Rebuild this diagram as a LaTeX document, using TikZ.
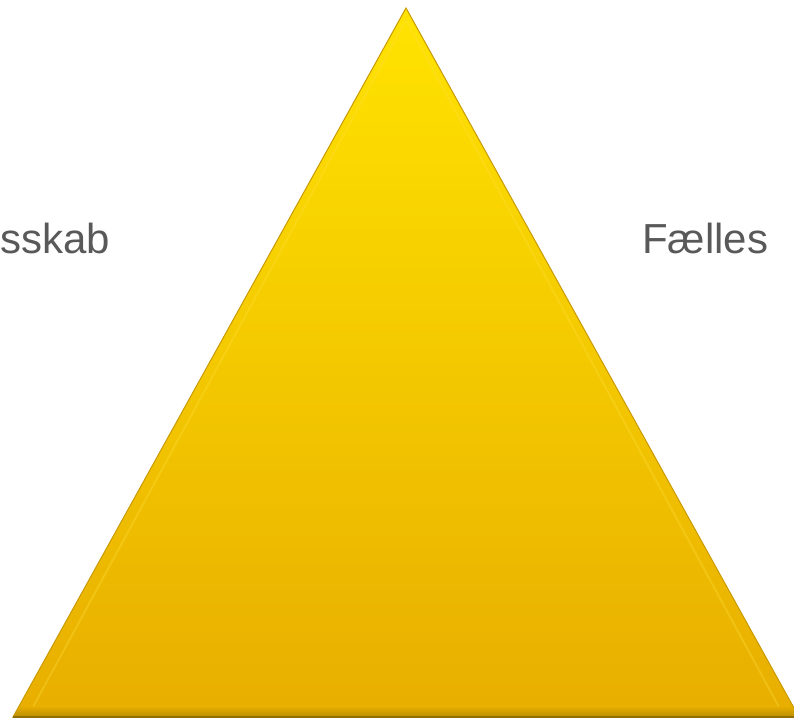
\documentclass[tikz,border=0pt]{standalone}
\usepackage{fontspec}
\setmainfont{Liberation Sans}
\usepackage{xcolor}
\usepackage{tikz}
\definecolor{goldtop}{HTML}{FFE300}
\definecolor{goldmid}{HTML}{FDCB00}
\definecolor{goldbot}{HTML}{E8AE00}
\definecolor{goldedge}{HTML}{C99A00}
\definecolor{goldlite}{HTML}{FFE040}
\definecolor{golddark}{HTML}{B58A00}
\definecolor{labelgray}{HTML}{595959}
\tikzset{
  sidelabel/.style={font=\fontsize{42}{50}\selectfont, text=labelgray, inner sep=0pt}
}

\begin{document}
\begin{tikzpicture}[x=1pt, y=-1pt]
      \useasboundingbox (0, 0) rectangle (794, 720);
      \clip (0, 0) rectangle (794, 720);

      % Corners of the pyramid
      \coordinate (apex) at (406, 8);
      \coordinate (baseL) at (13, 717);
      \coordinate (baseR) at (799, 717);

      % Shaded triangle
      \shade[top color=goldtop, middle color=goldmid, bottom color=goldbot,
             draw=goldedge, line width=1pt]
        (apex) -- (baseR) -- (baseL) -- cycle;

      % Bevel: faint inner rim and dark base strip
      \draw[goldlite, line width=2pt, opacity=0.3]
        (406, 20) -- (33, 707) -- (779, 707) -- cycle;
      \shade[top color=goldbot, bottom color=golddark, opacity=0.8]
        (14, 716) -- (798, 716) -- (792, 706) -- (20, 706) -- cycle;
      \draw[golddark!80!black, line width=1.2pt] (baseL) -- (baseR);

      % Side labels
      \node[sidelabel, anchor=base east] (leftword) at (110, 253) {sskab};
      \node[sidelabel, anchor=base west] (rightword) at (642, 253) {Fælles};
    \end{tikzpicture}
\end{document}
